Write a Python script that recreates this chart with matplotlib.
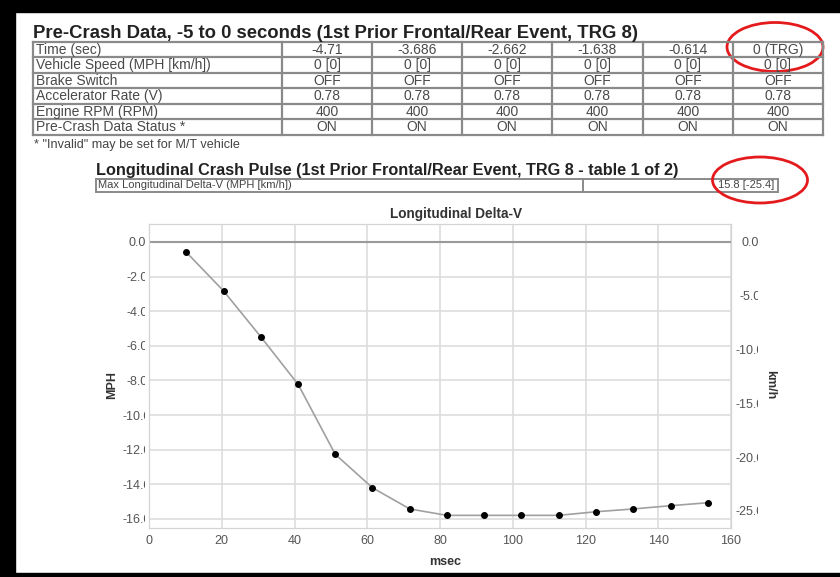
import numpy as np
import matplotlib.pyplot as plt
from matplotlib.patches import Ellipse, Rectangle
from matplotlib.transforms import Bbox

plt.rcParams['font.family'] = ['Liberation Sans', 'DejaVu Sans']

# pre-crash table
times = ['-4.71', '-3.686', '-2.662', '-1.638', '-0.614', '0 (TRG)']
row_names = ['Time (sec)', 'Vehicle Speed (MPH [km/h])', 'Brake Switch',
             'Accelerator Rate (V)', 'Engine RPM (RPM)', 'Pre-Crash Data Status *']
speed = ['0 [0]'] * 6
brake = ['OFF'] * 6
accel = ['0.78'] * 6
rpm = ['400'] * 6
status = ['ON'] * 6
table_rows = [times, speed, brake, accel, rpm, status]

max_dv_label = 'Max Longitudinal Delta-V (MPH [km/h])'
max_dv = 15.8
max_dv_kmh = -25.4

# crash pulse samples
msec = [10.2, 20.5, 30.7, 41.0, 51.2, 61.4, 71.7, 81.9, 92.2, 102.4,
        112.6, 122.9, 133.1, 143.4, 153.6]
mph = [-0.58, -2.83, -5.47, -8.23, -12.27, -14.2, -15.43, -15.8, -15.8, -15.8,
       -15.8, -15.59, -15.43, -15.24, -15.07]
KMH = 1.609344

W, H = 840, 577
fig = plt.figure(figsize=(W / 100, H / 100), dpi=100)

# page overlay in pixel units
ov = fig.add_axes([0, 0, 1, 1], zorder=0)
ov.set_xlim(0, W)
ov.set_ylim(H, 0)
ov.axis('off')

ov.add_patch(Rectangle((0, 0), W, 12, color='black'))
ov.add_patch(Rectangle((0, 0), 15, H, color='black'))
ov.add_patch(Rectangle((0, 573), W, 4, color='black'))

ov.text(33, 37.5, 'Pre-Crash Data, -5 to 0 seconds (1st Prior Frontal/Rear Event, TRG 8)',
        fontsize=13.3, fontweight='bold', color='#222222', va='baseline')

col_edges = [33, 282, 372, 462, 552, 643, 733, 823]
row_edges = [41.5, 57, 72.5, 88, 103.5, 119, 134.5]
gc = '#8a8a8a'
for x in col_edges:
    ov.plot([x, x], [row_edges[0], row_edges[-1]], color=gc, lw=1.6)
for y in row_edges:
    ov.plot([col_edges[0], col_edges[-1]], [y, y], color=gc, lw=1.6)
for i, name in enumerate(row_names):
    yc = (row_edges[i] + row_edges[i + 1]) / 2 + 0.5
    ov.text(36, yc, name, fontsize=10, color='#4a4a4a', va='center')
    for j, v in enumerate(table_rows[i]):
        xc = (col_edges[j + 1] + col_edges[j + 2]) / 2
        ov.text(xc, yc, v, fontsize=10, color='#4a4a4a', va='center', ha='center')
ov.text(34, 145, '* "Invalid" may be set for M/T vehicle', fontsize=9.1,
        color='#444444', va='center')

ov.text(96, 175.5, 'Longitudinal Crash Pulse (1st Prior Frontal/Rear Event, TRG 8 - table 1 of 2)',
        fontsize=11.7, fontweight='bold', color='#222222', va='baseline')
ov.add_patch(Rectangle((96, 178.5), 682, 13.5, fill=False, edgecolor=gc, lw=1.4))
ov.plot([583, 583], [178.5, 192], color=gc, lw=1.4)
ov.text(98, 185.5, max_dv_label, fontsize=8, color='#444444', va='center')
ov.text(774, 185.5, f'{max_dv:.1f} [{max_dv_kmh:.1f}]', fontsize=8,
        color='#444444', va='center', ha='right')

ov.add_patch(Ellipse((775, 47), 96, 49, fill=False, edgecolor='#e41a1c', lw=2))
ov.add_patch(Ellipse((760, 180), 95, 46, fill=False, edgecolor='#e41a1c', lw=2))

# delta-V chart
ax = fig.add_axes([149 / W, 49 / H, 582 / W, 304 / H], zorder=2)
ax.set_facecolor('none')
ax.plot(msec, mph, color='#a0a0a0', lw=1.2, marker='o', ms=4,
        mfc='black', mec='black', zorder=3)
ylo, yhi = -16.53, 1.04
ax.set_xlim(0, 160)
ax.set_ylim(ylo, yhi)
ax.set_xticks(np.arange(0, 161, 20))
yt = np.arange(-16, 0.1, 2)
ax.set_yticks(yt)
ax.set_yticklabels([f'{v:.1f}' for v in yt])
ax.grid(color='#dddddd', lw=1.2)
ax.axhline(0, color='#9a9a9a', lw=1.5, zorder=2)
for s in ax.spines.values():
    s.set_color('#d4d4d4')
ax.tick_params(length=0, colors='#555555', labelsize=9)
ax.tick_params(axis='x', pad=5)
ax.tick_params(axis='y', pad=8.6)

ax2 = ax.twinx()
ax2.set_ylim(ylo * KMH, yhi * KMH)
kt = np.arange(-25, 0.1, 5)
ax2.set_yticks(kt)
ax2.set_yticklabels([f'{v:.1f}' for v in kt])
ax2.tick_params(length=0, colors='#555555', labelsize=9, pad=13.7)
for s in ax2.spines.values():
    s.set_color('#d4d4d4')

# value labels are cut off at a fixed edge on each side
clip_l = Bbox.from_extents(0, 0, 144.5, H)
clip_r = Bbox.from_extents(0, 0, 757.5, H)
for lbl in ax.get_yticklabels():
    lbl.set_ha('center')
    lbl.set_clip_on(True)
    lbl.set_clip_box(clip_l)
for lbl in ax2.get_yticklabels():
    lbl.set_ha('center')
    lbl.set_clip_on(True)
    lbl.set_clip_box(clip_r)

ov.text(456, 214, 'Longitudinal Delta-V', fontsize=9.8, fontweight='bold',
        color='#333333', ha='center', va='center')
ov.text(445, 562, 'msec', fontsize=9, fontweight='bold', color='#333333',
        ha='center', va='center')
ov.text(112, 385, 'MPH', fontsize=9, fontweight='bold', color='#333333',
        ha='center', va='center', rotation=90)
ov.text(770, 385, 'km/h', fontsize=9, fontweight='bold', color='#333333',
        ha='center', va='center', rotation=270)

fig.savefig('out.png', dpi=100)
